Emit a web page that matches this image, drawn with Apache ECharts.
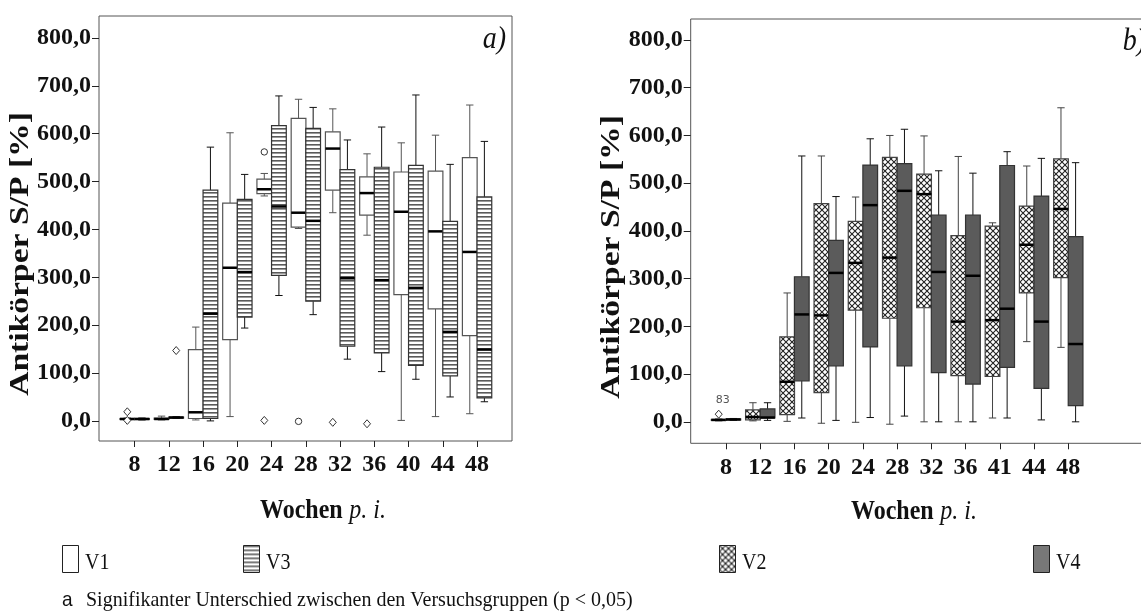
<!DOCTYPE html>
<html>
<head>
<meta charset="utf-8">
<script src="https://cdn.jsdelivr.net/npm/echarts@6/dist/echarts.min.js"></script>
<style>
  html, body { margin: 0; padding: 0; background: #fff; }
  #chart { width: 1141px; height: 615px; }
</style>
</head>
<body>
<div id="chart"></div>
<script>
// weeks p.i. (panel b has 41 instead of 40)
var weeksA = ['8', '12', '16', '20', '24', '28', '32', '36', '40', '44', '48'];
var weeksB = ['8', '12', '16', '20', '24', '28', '32', '36', '41', '44', '48'];
var yTicks = [0, 100, 200, 300, 400, 500, 600, 700, 800];

// [min, q1, median, q3, max] per week
var v1Box = [
  [2, 3, 4, 5, 6], [2, 3, 4, 6, 10], [2, 5, 18, 149, 196], [9, 170, 320, 455, 602],
  [470, 475, 484, 505, 517], [402, 405, 435, 632, 672], [435, 482, 569, 604, 652],
  [388, 430, 476, 510, 558], [1, 264, 437, 520, 581], [9, 234, 396, 522, 597],
  [15, 178, 353, 550, 660]
];
var v3Box = [
  [2, 3, 4, 5, 6], [5, 6, 7, 8, 9], [0, 5, 224, 482, 572], [194, 217, 311, 463, 515],
  [262, 304, 448, 617, 679], [222, 250, 418, 611, 655], [129, 156, 298, 525, 587],
  [103, 142, 294, 530, 614], [87, 116, 278, 534, 681], [50, 94, 186, 417, 536],
  [40, 48, 149, 468, 584]
];
var v2Box = [
  [2, 3, 4, 5, 6], [2, 4, 10, 25, 40], [1, 15, 84, 178, 270], [-3, 61, 223, 457, 557],
  [-1, 234, 333, 420, 471], [-5, 217, 344, 554, 600], [0, 239, 477, 519, 599],
  [0, 97, 210, 390, 556], [8, 95, 213, 410, 417], [168, 270, 371, 452, 536],
  [156, 302, 446, 551, 658]
];
var v4Box = [
  [3, 4, 5, 6, 7], [3, 8, 9, 27, 40], [8, 86, 225, 304, 557], [3, 117, 312, 380, 472],
  [9, 157, 454, 538, 593], [12, 117, 484, 541, 613], [0, 103, 314, 433, 526],
  [0, 79, 306, 433, 521], [8, 114, 237, 537, 566], [4, 70, 210, 473, 552],
  [0, 34, 163, 388, 543]
];

// outliers: [week index, value, shape (0 circle, 1 diamond), case label]
var v1Out = [[0, 19, 1, ''], [0, 1, 1, ''], [4, 562, 0, ''], [4, 1, 1, ''], [5, -1, 0, ''], [6, -3, 1, ''], [7, -6, 1, '']];
var v3Out = [[1, 147, 1, '']];
var v2Out = [[0, 16, 1, '83']];

var serif = '"Liberation Serif", "Times New Roman", serif';

function makePattern(w, h, draw) {
  var c = document.createElement('canvas');
  c.width = w; c.height = h;
  var ctx = c.getContext('2d');
  ctx.fillStyle = '#fff';
  ctx.fillRect(0, 0, w, h);
  draw(ctx);
  return { image: c, repeat: 'repeat' };
}
var stripes = makePattern(4, 4, function (ctx) {
  ctx.fillStyle = '#5a5a5a'; ctx.fillRect(0, 0, 4, 1);
  ctx.fillStyle = '#9a9a9a'; ctx.fillRect(0, 1, 4, 1);
});
var hatch = makePattern(6, 6, function (ctx) {
  ctx.strokeStyle = '#222'; ctx.lineWidth = 1.1;
  ctx.beginPath();
  ctx.moveTo(0, 0); ctx.lineTo(6, 6);
  ctx.moveTo(6, 0); ctx.lineTo(0, 6);
  ctx.stroke();
});

var styles = {
  V1: { fill: '#fff', border: '#555', whisker: '#555' },
  V3: { fill: stripes, border: '#333', whisker: '#111' },
  V2: { fill: hatch, border: '#444', whisker: '#444' },
  V4: { fill: '#5b5b5b', border: '#333', whisker: '#111' }
};

function boxSeries(name, rows, axis, side) {
  var st = styles[name];
  return {
    type: 'custom', name: name, xAxisIndex: axis, yAxisIndex: axis,
    data: rows.map(function (r, i) { return [i].concat(r); }),
    encode: { x: 0, y: [1, 2, 3, 4, 5] },
    renderItem: function (params, api) {
      var i = api.value(0);
      var band = api.size([1, 0])[0];
      var cx = api.coord([i, 0])[0] + side * band * 0.2135;
      var w = band * 0.43;
      var cap = w * 0.5;
      function y(k) { return api.coord([i, api.value(k)])[1]; }
      var yMin = y(1), yQ1 = y(2), yMed = y(3), yQ3 = y(4), yMax = y(5);
      var ws = { stroke: st.whisker, lineWidth: 1 };
      return {
        type: 'group',
        children: [
          { type: 'line', shape: { x1: cx, y1: yQ3, x2: cx, y2: yMax }, style: ws },
          { type: 'line', shape: { x1: cx, y1: yQ1, x2: cx, y2: yMin }, style: ws },
          { type: 'line', shape: { x1: cx - cap / 2, y1: yMax, x2: cx + cap / 2, y2: yMax }, style: ws },
          { type: 'line', shape: { x1: cx - cap / 2, y1: yMin, x2: cx + cap / 2, y2: yMin }, style: ws },
          { type: 'rect', shape: { x: cx - w / 2, y: yQ3, width: w, height: Math.max(yQ1 - yQ3, 1) },
            style: { fill: st.fill, stroke: st.border, lineWidth: 1.2 } },
          { type: 'line', shape: { x1: cx - w / 2, y1: yMed, x2: cx + w / 2, y2: yMed },
            style: { stroke: '#000', lineWidth: 2.5 } }
        ]
      };
    }
  };
}

function outlierSeries(rows, axis, side) {
  return {
    type: 'custom', xAxisIndex: axis, yAxisIndex: axis,
    data: rows.map(function (r) { return [r[0], r[1]]; }),
    encode: { x: 0, y: 1 },
    renderItem: function (params, api) {
      var o = rows[params.dataIndex];
      var band = api.size([1, 0])[0];
      var p = api.coord([o[0], o[1]]);
      var cx = p[0] + side * band * 0.2135, cy = p[1];
      var st = { fill: '#fff', stroke: '#333', lineWidth: 1 };
      var mark = o[2] === 0
        ? { type: 'circle', shape: { cx: cx, cy: cy, r: 3.2 }, style: st }
        : { type: 'polygon', shape: { points: [[cx, cy - 4], [cx + 3.5, cy], [cx, cy + 4], [cx - 3.5, cy]] }, style: st };
      var kids = [mark];
      if (o[3]) {
        kids.push({ type: 'text', x: cx + 4, y: cy - 9,
          style: { text: o[3], font: '11px "DejaVu Sans", sans-serif', fill: '#555', align: 'center', verticalAlign: 'bottom' } });
      }
      return { type: 'group', children: kids };
    }
  };
}

function fmt(v) { return v.toFixed(1).replace('.', ','); }

function frameY(grid, min, max) {
  return {
    gridIndex: grid, type: 'value', min: min, max: max,
    axisLine: { show: false },
    splitLine: { show: false },
    axisTick: { show: true, length: 7, customValues: yTicks, lineStyle: { color: '#222' } },
    axisLabel: { customValues: yTicks, formatter: fmt, margin: 8,
      fontFamily: serif, fontWeight: 'bold', fontSize: 24, color: '#111' }
  };
}
function dataX(grid, cats) {
  return {
    gridIndex: grid, type: 'category', data: cats, boundaryGap: true,
    axisLine: { show: false, onZero: false },
    axisTick: { show: true, alignWithLabel: true, length: 6, lineStyle: { color: '#222' } },
    axisLabel: { margin: 12, fontFamily: serif, fontWeight: 'bold', fontSize: 24, color: '#111' },
    splitLine: { show: false }
  };
}

var chart = echarts.init(document.getElementById('chart'));

var legendItems = [
  { name: 'V1', x: 62, fill: '#fff' },
  { name: 'V3', x: 243, fill: stripes },
  { name: 'V2', x: 719, fill: hatch },
  { name: 'V4', x: 1033, fill: '#787878' }
];
var graphics = [];
legendItems.forEach(function (it) {
  graphics.push({ type: 'rect', left: it.x, top: 545, shape: { width: 16, height: 27 },
    style: { fill: it.fill, stroke: '#222', lineWidth: 1 } });
  graphics.push({ type: 'text', x: it.x + 23, y: 574, scaleY: 1.12,
    style: { text: it.name, font: '20px ' + serif, fill: '#111', verticalAlign: 'bottom' } });
});
var xName = {
  text: '{b|Wochen}  {i|p. i.}', align: 'center', verticalAlign: 'middle',
  rich: { b: { font: 'bold 24px ' + serif, fill: '#111' }, i: { font: 'italic 24px ' + serif, fill: '#111' } }
};
graphics.push(
  { type: 'text', x: 62, y: 600, scaleY: 1.1,
    style: { text: 'a', font: '19px "Liberation Sans", sans-serif', fill: '#111', verticalAlign: 'middle' } },
  { type: 'text', x: 86, y: 600, scaleY: 1.1,
    style: { text: 'Signifikanter Unterschied zwischen den Versuchsgruppen (p < 0,05)', font: '20px ' + serif, fill: '#111', verticalAlign: 'middle' } },
  { type: 'text', x: 21, y: 254, rotation: Math.PI / 2, scaleX: 1.2,
    style: { text: 'Antikörper S/P [%]', font: 'bold 28px ' + serif, fill: '#111', align: 'center', verticalAlign: 'middle' } },
  { type: 'text', x: 612, y: 257, rotation: Math.PI / 2, scaleX: 1.2,
    style: { text: 'Antikörper S/P [%]', font: 'bold 28px ' + serif, fill: '#111', align: 'center', verticalAlign: 'middle' } },
  { type: 'text', x: 506, y: 40, scaleY: 1.1,
    style: { text: 'a)', font: 'italic 28px ' + serif, fill: '#111', align: 'right', verticalAlign: 'middle' } },
  { type: 'text', x: 1146, y: 42, scaleY: 1.1,
    style: { text: 'b)', font: 'italic 28px ' + serif, fill: '#111', align: 'right', verticalAlign: 'middle' } },
  { type: 'text', x: 323, y: 511, scaleY: 1.12, style: xName },
  { type: 'text', x: 914, y: 512, scaleY: 1.12, style: xName }
);

chart.setOption({
  animation: false,
  backgroundColor: '#fff',
  grid: [
    { left: 99, top: 16, width: 413, height: 425, show: true, borderColor: '#555', borderWidth: 1, outerBoundsMode: 'none' },
    { left: 117.5, top: 16, width: 376.7, height: 425, outerBoundsMode: 'none' },
    { left: 690.7, top: 19, width: 460, height: 424.3, show: true, borderColor: '#555', borderWidth: 1, outerBoundsMode: 'none' },
    { left: 708.9, top: 19, width: 376.5, height: 424.3, outerBoundsMode: 'none' }
  ],
  xAxis: [
    { gridIndex: 0, type: 'value', show: false },
    dataX(1, weeksA),
    { gridIndex: 2, type: 'value', show: false },
    dataX(3, weeksB)
  ],
  yAxis: [
    frameY(0, -42, 846),
    { gridIndex: 1, type: 'value', min: -42, max: 846, show: false },
    frameY(2, -45, 844),
    { gridIndex: 3, type: 'value', min: -45, max: 844, show: false }
  ],
  series: [
    boxSeries('V1', v1Box, 1, -1),
    boxSeries('V3', v3Box, 1, 1),
    boxSeries('V2', v2Box, 3, -1),
    boxSeries('V4', v4Box, 3, 1),
    outlierSeries(v1Out, 1, -1),
    outlierSeries(v3Out, 1, 1),
    outlierSeries(v2Out, 3, -1)
  ],
  graphic: graphics
});
</script>
</body>
</html>
